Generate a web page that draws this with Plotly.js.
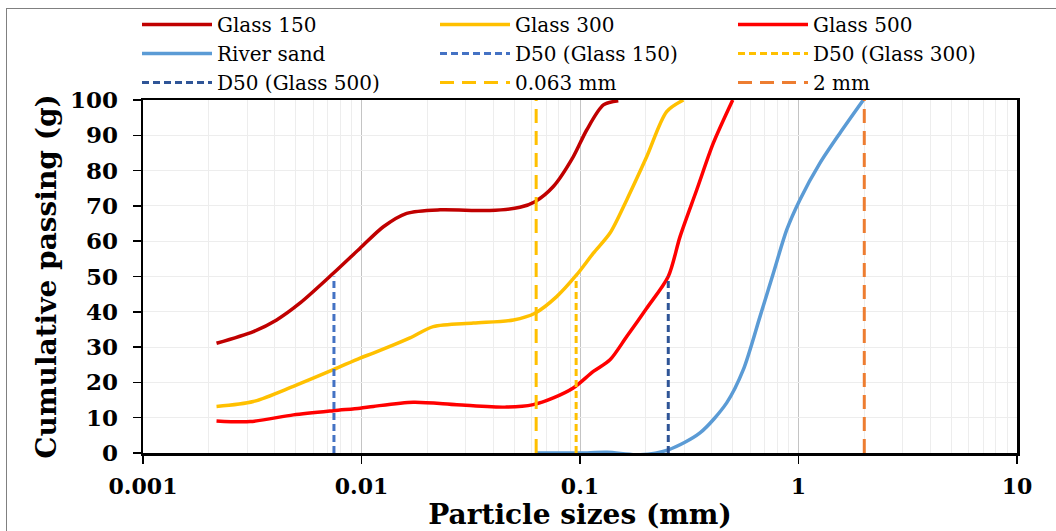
<!DOCTYPE html>
<html>
<head>
<meta charset="utf-8">
<script src="https://cdn.plot.ly/plotly-3.0.1.min.js"></script>
<style>
html,body{margin:0;padding:0;background:#fff;}
#frame{position:absolute;left:6px;top:8px;width:1200px;height:700px;border:1.5px solid #808080;}
#chart{position:absolute;left:0;top:0;width:1056px;height:531px;}
</style>
</head>
<body>
<div id="frame"></div>
<div id="chart"></div>
<script>
// Particle size (mm) and cumulative passing (%)
const glass150X = [0.00217, 0.0032, 0.00409, 0.00524, 0.00743, 0.00985, 0.01259, 0.0161, 0.0229, 0.0387, 0.0531, 0.0622, 0.0755, 0.0931, 0.1073, 0.128, 0.1497];
const glass150Y = [31.1, 34.4, 37.7, 42.5, 50.9, 58.0, 64.1, 67.9, 68.9, 68.7, 69.6, 71.2, 75.5, 83.9, 91.5, 98.6, 99.8];

const glass300X = [0.00217, 0.0032, 0.00488, 0.00743, 0.00985, 0.01132, 0.01667, 0.0213, 0.0325, 0.0496, 0.0622, 0.0782, 0.0966, 0.1151, 0.1372, 0.1636, 0.2019, 0.2493, 0.2973];
const glass300Y = [13.2, 14.6, 18.9, 23.6, 26.9, 28.3, 32.6, 35.8, 36.8, 37.7, 39.6, 44.3, 50.5, 56.6, 62.3, 71.7, 83.9, 96.7, 100];

const glass500X = [0.00217, 0.00309, 0.00488, 0.00743, 0.00985, 0.01132, 0.01726, 0.0273, 0.0461, 0.0611, 0.0755, 0.0931, 0.1151, 0.1372, 0.1636, 0.2019, 0.2535, 0.287, 0.342, 0.407, 0.5];
const glass500Y = [9.1, 8.9, 10.8, 12.0, 12.7, 13.2, 14.4, 13.7, 13.0, 13.7, 15.6, 18.4, 23.1, 26.4, 33.0, 41.0, 50.0, 61.3, 74.5, 87.7, 100];

const riverX = [0.0633, 0.1, 0.133, 0.188, 0.2535, 0.354, 0.469, 0.559, 0.667, 0.767, 0.883, 1.014, 1.253, 1.547, 1.98];
const riverY = [0, 0, 0.2, -0.5, 0.9, 5.7, 14.2, 23.6, 38.7, 50.9, 63.2, 71.7, 82.1, 90.6, 100];

const d50Glass150 = 0.00748;
const d50Glass300 = 0.096;
const d50Glass500 = 0.2535;
const siltLimit = 0.063;
const sandLimit = 2;
const d50Level = 50;
const fullLevel = 100;

const traceNames = ['Glass 150', 'Glass 300', 'Glass 500', 'River sand', 'D50 (Glass 150)', 'D50 (Glass 300)', 'D50 (Glass 500)', '0.063 mm', '2 mm'];
const yTickVals = [0, 10, 20, 30, 40, 50, 60, 70, 80, 90, 100];
const xTickVals = [0.001, 0.01, 0.1, 1, 10];
const xTickText = ['0.001', '0.01', '0.1', '1', '10'];

const curve = (x, y, name, color, lg) => ({
  x: x, y: y, name: name, type: 'scatter', mode: 'lines', legend: lg,
  line: {color: color, width: 3.5, shape: 'spline', smoothing: 0.8}
});
const vline = (xv, top, name, color, dash, lg) => ({
  x: [xv, xv], y: [0, top], name: name, type: 'scatter', mode: 'lines', legend: lg,
  line: {color: color, width: 3, dash: dash}
});

// legend laid out in three columns, filled row by row like the reference
const traces = [
  curve(glass150X, glass150Y, traceNames[0], '#C00000', 'legend'),
  curve(glass300X, glass300Y, traceNames[1], '#FFC000', 'legend2'),
  curve(glass500X, glass500Y, traceNames[2], '#FF0000', 'legend3'),
  curve(riverX, riverY, traceNames[3], '#5B9BD5', 'legend'),
  vline(d50Glass150, d50Level, traceNames[4], '#4472C4', '7px,4px', 'legend2'),
  vline(d50Glass300, d50Level, traceNames[5], '#FFC000', '7px,4px', 'legend3'),
  vline(d50Glass500, d50Level, traceNames[6], '#2F5597', '7px,4px', 'legend'),
  vline(siltLimit, fullLevel, traceNames[7], '#FFC000', '14px,8px', 'legend2'),
  vline(sandLimit, fullLevel, traceNames[8], '#ED7D31', '14px,8px', 'legend3')
];

const minorVals = [];
for (let e = -3; e < 1; e++) {
  for (let k = 2; k <= 9; k++) minorVals.push(k * Math.pow(10, e));
}

// plot area: x 143..1017 px, y 100..453 px
const legendBase = (xpx) => ({
  orientation: 'v', x: (xpx - 143) / 874, xref: 'paper', xanchor: 'left',
  y: (453 - 5) / 353, yref: 'paper', yanchor: 'top',
  itemwidth: 70, tracegroupgap: 0,
  font: {family: 'DejaVu Serif', size: 20, color: '#000'},
  bgcolor: 'rgba(0,0,0,0)', traceorder: 'normal'
});

const boldFont = 'DejaVu Serif';
const layout = {
  width: 1056, height: 531,
  margin: {l: 143, r: 39, t: 100, b: 78, autoexpand: false},
  paper_bgcolor: 'rgba(0,0,0,0)',
  plot_bgcolor: '#fff',
  showlegend: true,
  legend: legendBase(137),
  legend2: legendBase(435),
  legend3: legendBase(733),
  xaxis: {
    type: 'log', range: [-3, 1],
    tickmode: 'array', tickvals: xTickVals, ticktext: xTickText,
    showgrid: true, gridcolor: '#c4c4c4', gridwidth: 1,
    minor: {tickmode: 'array', tickvals: minorVals, showgrid: true, gridcolor: '#ededed', gridwidth: 1, ticks: ''},
    showline: true, linecolor: '#000', linewidth: 2.5, mirror: true,
    ticks: 'outside', ticklen: 8, tickwidth: 1.5, tickcolor: '#000',
    ticklabelstandoff: 4,
    tickfont: {family: boldFont, size: 22, color: '#000', weight: 'bold'},
    zeroline: false,
    title: {text: '<b>Particle sizes (mm)</b>', font: {family: boldFont, size: 28, color: '#000'}, standoff: 10}
  },
  yaxis: {
    range: [0, 100], tickmode: 'array', tickvals: yTickVals,
    showgrid: true, gridcolor: '#ededed', gridwidth: 1,
    showline: true, linecolor: '#000', linewidth: 2.5, mirror: true,
    ticks: 'outside', ticklen: 8, tickwidth: 1.5, tickcolor: '#000',
    ticklabelstandoff: 10,
    tickfont: {family: boldFont, size: 23, color: '#000', weight: 'bold'},
    zeroline: false,
    title: {text: '<b>Cumulative passing (g)</b>', font: {family: boldFont, size: 28, color: '#000'}, standoff: 5}
  }
};

Plotly.newPlot('chart', traces, layout, {displayModeBar: false, staticPlot: true});
</script>
</body>
</html>
